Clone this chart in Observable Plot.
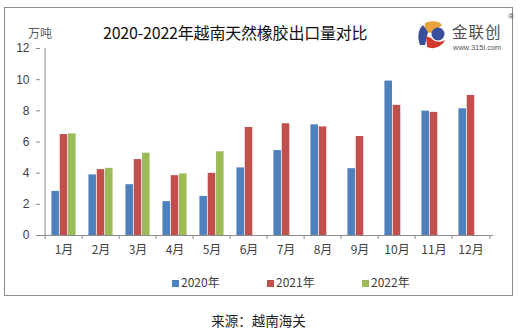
<!DOCTYPE html>
<html><head><meta charset="utf-8">
<script src="https://cdn.jsdelivr.net/npm/d3@7"></script>
<script src="https://cdn.jsdelivr.net/npm/@observablehq/plot@0.6"></script>
<style>
body{margin:0;background:#fff;width:522px;height:334px;position:relative;overflow:hidden;font-family:"Noto Sans CJK SC","Noto Sans",sans-serif;}
#frame{position:absolute;left:4px;top:7px;width:507px;height:287px;border:1.3px solid #8c8c8c;}
#chart{position:absolute;left:0;top:0;}
#title{position:absolute;left:103px;top:22px;font-size:16px;line-height:20px;color:#111;white-space:nowrap;letter-spacing:-0.2px;}
#unit{position:absolute;left:28px;top:25px;font-size:12px;line-height:16px;color:#595959;}
#legend{position:absolute;left:172px;top:274px;font-size:12px;line-height:16px;color:#404040;white-space:nowrap;}
#legend span.item{display:inline-block;width:95px;}
#legend i{display:inline-block;width:7px;height:7px;margin-right:2px;vertical-align:0px;}
#source{position:absolute;left:0;width:517px;text-align:center;top:311px;font-size:13.5px;line-height:18px;color:#222;}
#logo{position:absolute;left:416px;top:20px;}
#logotext{position:absolute;left:452px;top:20px;font-size:15.5px;line-height:normal;color:#4d4d4d;letter-spacing:1px;}
#logourl{position:absolute;left:453px;top:43px;font-size:7.5px;line-height:normal;color:#555;font-family:"Liberation Sans",sans-serif;}
#reg{position:absolute;left:508px;top:12px;font-size:8px;line-height:normal;color:#555;font-family:"Liberation Sans",sans-serif;}
</style></head>
<body>
<div id="frame"></div>
<div id="chart"></div>
<div id="title">2020-2022年越南天然橡胶出口量对比</div>
<div id="unit">万吨</div>
<svg id="logo" width="32" height="30" viewBox="0 0 32 30">
  <path d="M9 3 C15 0 24 1 26 5 L17 13 L8 12 Z" fill="#e8a33a"/>
  <path d="M7 5 C2 9 1 18 4 25 L9 25 L12 12 Z" fill="#3a4f9a"/>
  <circle cx="22" cy="14" r="6.5" fill="#3a4f9a"/>
  <path d="M10 16 L15 18 C18 22 24 23 29 20 C26 27 17 30 11 27 Z" fill="#d03a2c"/>
</svg>
<div id="logotext">金联创</div>
<div id="logourl">www.315i.com</div>
<div id="reg">®</div>
<div id="legend"></div>
<div id="source">来源：越南海关</div>
<script>
const months = ["1月","2月","3月","4月","5月","6月","7月","8月","9月","10月","11月","12月"];
const years = ["2020年","2021年","2022年"];
const colors = ["#4f81bd","#c0504d","#9bbb59"];
const v2020 = [2.83,3.89,3.26,2.17,2.51,4.34,5.45,7.10,4.29,9.91,7.98,8.13];
const v2021 = [6.48,4.23,4.87,3.84,3.99,6.93,7.17,6.97,6.35,8.35,7.90,8.99];
const v2022 = [6.52,4.31,5.28,3.95,5.37];
const yTicks = [0,2,4,6,8,10,12];

const W = 522, H = 265, mL = 40, mR = 29, mT = 48, mB = 30;
const step = (W - mL - mR) / months.length;
const barW = 8.3;
const inset = (step - barW) / 2;
const series = [v2020, v2021, v2022];
const gray = "#8c8c8c";

const barMarks = series.map((vals, i) =>
  Plot.barY(vals.map((v, j) => ({month: months[j], value: v})), {
    x: "month", y: "value", fill: colors[i],
    insetLeft: inset, insetRight: inset, dx: (i - 1) * barW
  })
);

const plot = Plot.plot({
  width: W, height: H,
  marginLeft: mL, marginRight: mR, marginTop: mT, marginBottom: mB,
  style: {fontFamily: "'Noto Sans CJK SC','Noto Sans',sans-serif", fontSize: "12px", color: "#404040", background: "transparent"},
  x: {domain: months, padding: 0, label: null},
  y: {domain: [0, 12], ticks: yTicks, label: null},
  marks: [
    ...barMarks,
    Plot.ruleY([0], {stroke: gray, strokeWidth: 1}),
    Plot.ruleX([months[0]], {dx: -step / 2, y1: 0, y2: 12, stroke: gray}),
    Plot.ruleX(months, {x: d => d, dx: -step / 2, y1: 0, y2: -0.26, stroke: gray}),
    Plot.ruleX([months[months.length - 1]], {dx: step / 2, y1: 0, y2: -0.26, stroke: gray}),
    Plot.axisY({ticks: yTicks, tickSize: 4, tickPadding: 7, stroke: gray, fill: "#404040", fontSize: 12, tickFormat: d => d, label: null, fontFamily: "'Liberation Sans',sans-serif"}),
    Plot.axisX({tickSize: 0, tickPadding: 10, fill: "#404040", fontSize: 12, label: null})
  ]
});
document.getElementById("chart").appendChild(plot);

const leg = document.getElementById("legend");
years.forEach((y, i) => {
  const s = document.createElement("span");
  s.className = "item";
  s.innerHTML = `<i style="background:${colors[i]}"></i>${y}`;
  leg.appendChild(s);
});
</script>
</body></html>
